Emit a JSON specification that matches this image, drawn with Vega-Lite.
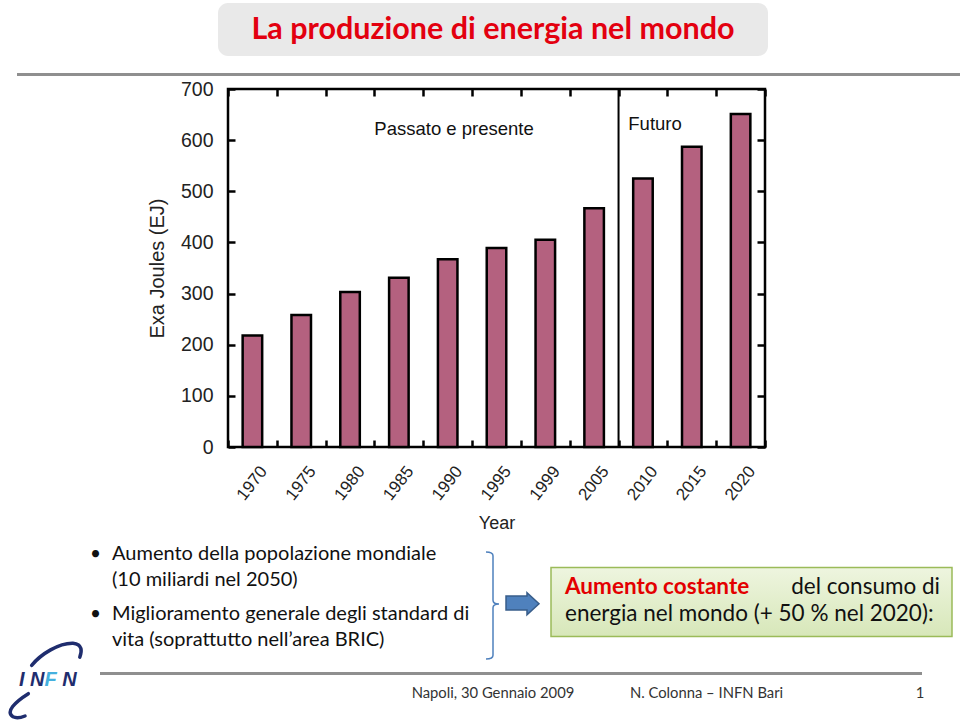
{
  "$schema": "https://vega.github.io/schema/vega-lite/v6.json",
  "padding": 0,
  "spacing": 0,
  "background": "white",
  "config": {
    "view": {"stroke": null},
    "concat": {"spacing": 0},
    "font": "Lato",
    "axis": {
      "labelFont": "Liberation Sans",
      "titleFont": "Liberation Sans",
      "grid": false,
      "domain": false,
      "tickColor": "black",
      "tickWidth": 2.5,
      "labelColor": "#222",
      "titleColor": "#222",
      "titleFontWeight": "normal"
    }
  },
  "vconcat": [
    {"width": 1, "height": 3, "data": {"values": []}, "mark": {"type": "text", "text": ""}},
    {
      "hconcat": [
        {"width": 218, "height": 1, "data": {"values": []}, "mark": {"type": "text", "text": ""}},
        {
          "width": 550,
          "height": 53,
          "view": {"fill": "#e9e9e9", "stroke": null, "cornerRadius": 10},
          "data": {"values": [{"titolo": "La produzione di energia nel mondo"}]},
          "mark": {"type": "text", "font": "Lato", "fontWeight": "bold", "fontSize": 30.5, "color": "#e3000f", "align": "center", "baseline": "middle"},
          "encoding": {"text": {"field": "titolo"}}
        }
      ],
      "spacing": 0,
      "bounds": "flush"
    },
    {"width": 1, "height": 17, "data": {"values": []}, "mark": {"type": "text", "text": ""}},
    {
      "hconcat": [
        {"width": 17, "height": 1, "data": {"values": []}, "mark": {"type": "text", "text": ""}},
        {"width": 943, "height": 3, "view": {"fill": "#8f8f8f", "stroke": null}, "data": {"values": []}, "mark": {"type": "text", "text": ""}}
      ],
      "spacing": 0,
      "bounds": "flush"
    },
    {"width": 1, "height": 1, "data": {"values": []}, "mark": {"type": "text", "text": ""}},
    {
      "hconcat": [
        {"width": 228, "height": 1, "data": {"values": []}, "mark": {"type": "text", "text": ""}},
        {
          "width": 537,
          "height": 358,
          "view": {"stroke": "black", "strokeWidth": 2.5},
          "layer": [
            {
              "data": {
                "values": [
                  {"year": "1970", "ej": 218},
                  {"year": "1975", "ej": 258},
                  {"year": "1980", "ej": 303},
                  {"year": "1985", "ej": 331},
                  {"year": "1990", "ej": 367},
                  {"year": "1995", "ej": 389},
                  {"year": "1999", "ej": 405},
                  {"year": "2005", "ej": 467},
                  {"year": "2010", "ej": 525},
                  {"year": "2015", "ej": 587},
                  {"year": "2020", "ej": 651}
                ]
              },
              "mark": {"type": "bar", "width": {"band": 0.4}, "fill": "#b4617f", "stroke": "black", "strokeWidth": 2.5},
              "encoding": {
                "x": {
                  "field": "year",
                  "type": "ordinal",
                  "scale": {"domain": ["1970", "1975", "1980", "1985", "1990", "1995", "1999", "2005", "2010", "2015", "2020"], "paddingInner": 0, "paddingOuter": 0},
                  "axis": {
                    "orient": "bottom",
                    "title": "Year",
                    "labelAngle": -52,
                    "labelAlign": "right",
                    "labelBaseline": "middle",
                    "labelFontSize": 17,
                    "labelPadding": 28,
                    "labelOffset": 11,
                    "tickBand": "extent",
                    "tickSize": -7,
                    "titleFontSize": 18,
                    "titlePadding": 12
                  }
                },
                "y": {
                  "field": "ej",
                  "type": "quantitative",
                  "scale": {"domain": [0, 700], "nice": false},
                  "axis": {
                    "orient": "left",
                    "title": "Exa Joules (EJ)",
                    "values": [0, 100, 200, 300, 400, 500, 600, 700],
                    "labelFontSize": 19.5,
                    "labelPadding": 22,
                    "tickSize": -7,
                    "titleFontSize": 20,
                    "titlePadding": 13
                  }
                }
              }
            },
            {
              "data": {"values": [{}]},
              "mark": {"type": "rule", "stroke": "black", "strokeWidth": 2},
              "encoding": {
                "x": {
                  "datum": "2010",
                  "type": "ordinal",
                  "bandPosition": 0,
                  "axis": {"orient": "top", "labels": false, "title": null, "tickBand": "extent", "tickSize": -7}
                }
              }
            },
            {
              "data": {"values": [{}]},
              "mark": {"type": "text", "text": "Passato e presente", "font": "Liberation Sans", "fontSize": 18.5, "color": "#111", "align": "center", "baseline": "middle"},
              "encoding": {
                "x": {"datum": "1990", "type": "ordinal", "bandPosition": 0.63, "axis": null},
                "y": {
                  "datum": 622,
                  "type": "quantitative",
                  "axis": {"orient": "right", "labels": false, "title": null, "values": [0, 100, 200, 300, 400, 500, 600, 700], "tickSize": -8}
                }
              }
            },
            {
              "data": {"values": [{}]},
              "mark": {"type": "text", "text": "Futuro", "font": "Liberation Sans", "fontSize": 18.5, "color": "#111", "align": "left", "baseline": "middle"},
              "encoding": {
                "x": {"datum": "2010", "type": "ordinal", "bandPosition": 0.2, "axis": null},
                "y": {"datum": 632, "type": "quantitative", "axis": null}
              }
            }
          ],
          "resolve": {"axis": {"x": "independent", "y": "independent"}}
        }
      ],
      "spacing": 0,
      "bounds": "flush"
    },
    {"width": 1, "height": 8, "data": {"values": []}, "mark": {"type": "text", "text": ""}},
    {
      "hconcat": [
        {
          "vconcat": [
            {"width": 1, "height": 96, "data": {"values": []}, "mark": {"type": "text", "text": ""}},
            {
              "width": 90,
              "height": 84,
              "data": {"values": [{}]},
              "layer": [
                {"mark": {"type": "point", "shape": "M-0.333,-0.368 C-0.1,-0.65 0.35,-0.93 0.7,-0.92 C0.95,-0.9 0.92,-0.7 0.87,-0.57", "size": 6400, "filled": false, "fill": "transparent", "stroke": "#1f2d6e", "strokeWidth": 3.5, "opacity": 1, "strokeCap": "round"}},
                {"mark": {"type": "point", "shape": "M-0.417,0.342 C-0.75,0.55 -1.0,0.8 -0.8,0.92 C-0.7,0.97 -0.55,0.92 -0.5,0.9", "size": 6400, "filled": false, "fill": "transparent", "stroke": "#1f2d6e", "strokeWidth": 3.5, "opacity": 1, "strokeCap": "round"}},
                {
                  "mark": {"type": "text", "text": "I N\u00a0", "font": "Liberation Sans", "fontStyle": "italic", "fontWeight": "bold", "fontSize": 20, "color": "#1f2d6e", "align": "right", "baseline": "middle"},
                  "encoding": {"x": {"datum": "A", "type": "nominal", "scale": {"type": "point", "domain": ["P", "Q", "A", "B", "R"], "padding": 0.531, "align": 0.471}, "axis": null}}
                },
                {
                  "mark": {"type": "text", "text": "F", "font": "Liberation Sans", "fontStyle": "italic", "fontWeight": "bold", "fontSize": 20, "color": "#45b0de", "align": "left", "baseline": "middle"},
                  "encoding": {"x": {"datum": "A", "type": "nominal", "axis": null}}
                },
                {
                  "mark": {"type": "text", "text": "N", "font": "Liberation Sans", "fontStyle": "italic", "fontWeight": "bold", "fontSize": 20, "color": "#1f2d6e", "align": "left", "baseline": "middle"},
                  "encoding": {"x": {"datum": "B", "type": "nominal", "axis": null}}
                }
              ]
            }
          ],
          "spacing": 0,
          "bounds": "flush"
        },
        {
          "vconcat": [
            {
              "hconcat": [
                {
                  "width": 22,
                  "height": 120,
                  "data": {
                    "values": [
                      {"item": 1, "testo": "Aumento della popolazione mondiale\n(10 miliardi nel 2050)"},
                      {"item": 2, "testo": "Miglioramento generale degli standard di\nvita (soprattutto nell’area BRIC)"}
                    ]
                  },
                  "encoding": {
                    "y": {"field": "item", "type": "ordinal", "scale": {"type": "point", "padding": 0.5, "align": 0.2}, "axis": null}
                  },
                  "layer": [
                    {
                      "mark": {"type": "text", "text": ["•", " "], "align": "left", "baseline": "middle", "font": "Lato", "fontSize": 19, "lineHeight": 26, "color": "#111"},
                      "encoding": {"x": {"datum": "dot", "type": "nominal", "scale": {"type": "point", "domain": ["dot", "text"], "padding": 0}, "axis": null}}
                    },
                    {
                      "mark": {"type": "text", "align": "left", "baseline": "middle", "font": "Lato", "fontSize": 20, "lineHeight": 26, "lineBreak": "\n", "color": "#111"},
                      "encoding": {"x": {"datum": "text", "type": "nominal", "axis": null}, "text": {"field": "testo"}}
                    }
                  ]
                },
                {"width": 374, "height": 1, "data": {"values": []}, "mark": {"type": "text", "text": ""}},
                {
                  "width": 14,
                  "height": 107,
                  "data": {"values": [{}]},
                  "mark": {"type": "point", "shape": "M-0.117,-0.833 Q0,-0.833 0,-0.77 L0,-0.03 Q0,0.033 0.1,0.033 Q0,0.033 0,0.096 L0,0.887 Q0,0.95 -0.117,0.95", "size": 14400, "filled": false, "fill": "transparent", "stroke": "#4f81bd", "strokeWidth": 1.5, "opacity": 1}
                },
                {"width": 5, "height": 1, "data": {"values": []}, "mark": {"type": "text", "text": ""}},
                {
                  "width": 36,
                  "height": 22,
                  "data": {"values": [{}]},
                  "mark": {"type": "point", "shape": "M-0.944,-0.333 L0.222,-0.333 L0.222,-0.517 L0.889,0.094 L0.222,0.706 L0.222,0.444 L-0.944,0.444 Z", "size": 1296, "filled": true, "fill": "#4f81bd", "stroke": "#385d8a", "strokeWidth": 1.5, "opacity": 1}
                },
                {"width": 10, "height": 1, "data": {"values": []}, "mark": {"type": "text", "text": ""}},
                {
                  "width": 401,
                  "height": 69,
                  "view": {
                    "fill": {"gradient": "linear", "x1": 0, "y1": 0, "x2": 0, "y2": 1, "stops": [{"offset": 0, "color": "#eef5df"}, {"offset": 1, "color": "#d7e7b9"}]},
                    "stroke": "#9bbb59",
                    "strokeWidth": 1.5
                  },
                  "data": {
                    "values": [
                      {"line": 1, "testo": "Aumento costante"},
                      {"line": 1, "testo": "del consumo di"},
                      {"line": 2, "testo": "energia nel mondo (+ 50 % nel 2020):"}
                    ]
                  },
                  "encoding": {
                    "y": {"field": "line", "type": "ordinal", "scale": {"type": "point", "domain": [1, 2], "padding": 0.778, "align": 0.476}, "axis": null},
                    "text": {"field": "testo"}
                  },
                  "layer": [
                    {
                      "transform": [{"filter": "datum.testo == 'Aumento costante'"}],
                      "mark": {"type": "text", "align": "left", "baseline": "middle", "font": "Lato", "fontWeight": "bold", "fontSize": 22.5, "color": "#e30000"},
                      "encoding": {"x": {"datum": "left", "type": "nominal", "scale": {"type": "point", "domain": ["left", "right"], "padding": 0.0347, "align": 0.538}, "axis": null}}
                    },
                    {
                      "transform": [{"filter": "datum.testo == 'del consumo di'"}],
                      "mark": {"type": "text", "align": "right", "baseline": "middle", "font": "Lato", "fontSize": 22.5, "color": "#111"},
                      "encoding": {"x": {"datum": "right", "type": "nominal", "axis": null}}
                    },
                    {
                      "transform": [{"filter": "datum.line == 2"}],
                      "mark": {"type": "text", "align": "left", "baseline": "middle", "font": "Lato", "fontSize": 22.5, "color": "#111"},
                      "encoding": {"x": {"datum": "left", "type": "nominal", "axis": null}}
                    }
                  ]
                }
              ],
              "spacing": 0,
              "bounds": "flush",
              "center": true
            },
            {"width": 1, "height": 10, "data": {"values": []}, "mark": {"type": "text", "text": ""}},
            {
              "hconcat": [
                {"width": 10, "height": 1, "data": {"values": []}, "mark": {"type": "text", "text": ""}},
                {"width": 822, "height": 3, "view": {"fill": "#8f8f8f", "stroke": null}, "data": {"values": []}, "mark": {"type": "text", "text": ""}}
              ],
              "spacing": 0,
              "bounds": "flush"
            },
            {"width": 1, "height": 7, "data": {"values": []}, "mark": {"type": "text", "text": ""}},
            {
              "hconcat": [
                {"width": 322, "height": 1, "data": {"values": []}, "mark": {"type": "text", "text": ""}},
                {"width": 162, "height": 24, "data": {"values": [{}]}, "mark": {"type": "text", "text": "Napoli, 30 Gennaio 2009", "font": "Lato", "fontSize": 14.8, "color": "#333"}},
                {"width": 52, "height": 1, "data": {"values": []}, "mark": {"type": "text", "text": ""}},
                {"width": 161, "height": 24, "data": {"values": [{}]}, "mark": {"type": "text", "text": "N. Colonna – INFN Bari", "font": "Lato", "fontSize": 14.8, "color": "#333"}},
                {"width": 123, "height": 1, "data": {"values": []}, "mark": {"type": "text", "text": ""}},
                {"width": 20, "height": 24, "data": {"values": [{}]}, "mark": {"type": "text", "text": "1", "font": "Lato", "fontSize": 14.8, "color": "#333"}}
              ],
              "spacing": 0,
              "bounds": "flush",
              "center": true
            }
          ],
          "spacing": 0
        }
      ],
      "spacing": 0
    }
  ]
}
